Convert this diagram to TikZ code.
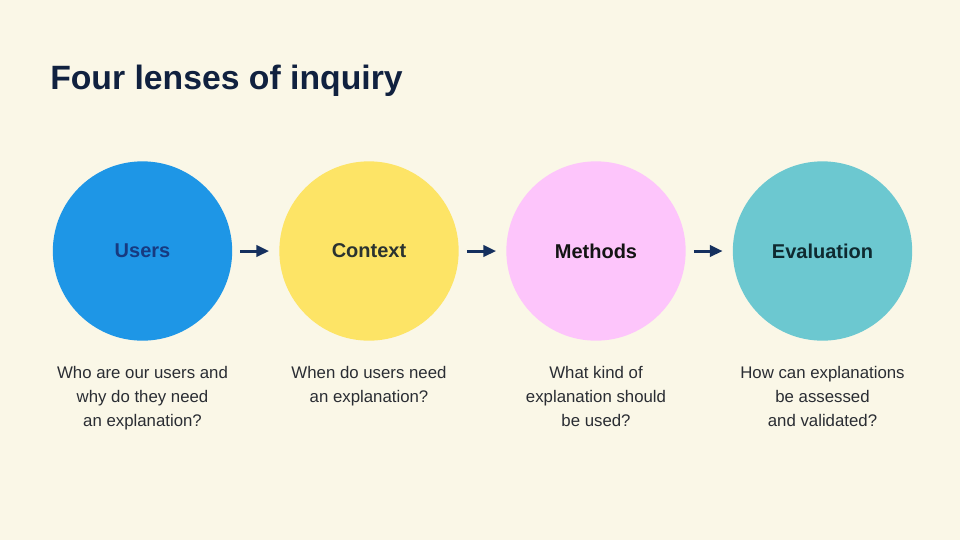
\documentclass[tikz,border=0pt]{standalone}
\usepackage{fontspec}
\setmainfont{Liberation Sans}
\usetikzlibrary{arrows.meta}
\definecolor{paper}{HTML}{FAF7E7}
\definecolor{titlenavy}{HTML}{10213F}
\definecolor{arrownavy}{HTML}{15305E}
\definecolor{notegray}{HTML}{2A2D33}
\definecolor{usersblue}{HTML}{1E96E6}
\definecolor{usersink}{HTML}{173A80}
\definecolor{contextyellow}{HTML}{FDE466}
\definecolor{contextink}{HTML}{2B3330}
\definecolor{methodspink}{HTML}{FDC5FB}
\definecolor{methodsink}{HTML}{141414}
\definecolor{evalteal}{HTML}{6CC8D0}
\definecolor{evalink}{HTML}{0F2A30}
\begin{document}
\begin{tikzpicture}[x=0.75pt, y=-0.75pt,
  lens/.style={circle, minimum size=134.5pt, inner sep=0pt, font=\fontsize{15}{18}\selectfont\bfseries},
  note/.style={align=center, anchor=north, inner sep=0pt, text=notegray, font=\fontsize{12.6}{18}\selectfont},
  flow/.style={-{Triangle[length=9.5pt, width=8.5pt]}, line width=2.25pt, draw=arrownavy, shorten <=6pt, shorten >=7.5pt}]
\fill[paper] (0,0) rectangle (960,540);
\useasboundingbox (0,0) rectangle (960,540);

% title
\node[anchor=base west, inner sep=0pt, text=titlenavy, font=\fontsize{25.3}{30}\selectfont\bfseries] (title) at (50,89) {Four lenses of inquiry};

% the four lenses
\node[lens, fill=usersblue, text=usersink] (users) at (142.5,251) {Users};
\node[lens, fill=contextyellow, text=contextink] (context) at (369,251) {Context};
\node[lens, fill=methodspink, text=methodsink] (methods) at (596,251) {Methods};
\node[lens, fill=evalteal, text=evalink] (evaluation) at (822.5,251) {Evaluation};

\draw[flow] (users) -- (context);
\draw[flow] (context) -- (methods);
\draw[flow] (methods) -- (evaluation);

% questions
\node[note] (usersq) at (142.5,366) {Who are our users and\\ why do they need\\ an explanation?};
\node[note] (contextq) at (369,366) {When do users need\\ an explanation?};
\node[note] (methodsq) at (596,366) {What kind of\\ explanation should\\ be used?};
\node[note] (evaluationq) at (822.5,366) {How can explanations\\ be assessed\\ and validated?};
\end{tikzpicture}
\end{document}
